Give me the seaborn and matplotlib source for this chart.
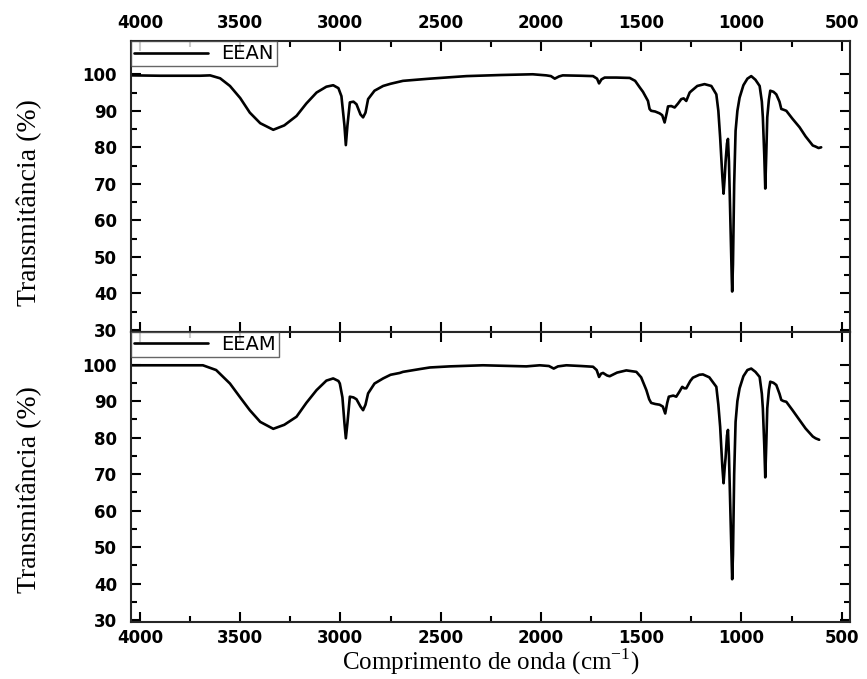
import pandas as pd
import seaborn as sns
import matplotlib.pyplot as plt
from matplotlib.ticker import MultipleLocator, FixedLocator

# Espectros FTIR (numero de onda em cm-1, transmitancia em %)
wn_eean = [4040, 3900, 3800, 3700, 3650, 3600, 3551, 3500, 3452, 3400, 3335, 3280,
           3219, 3170, 3119, 3070, 3036, 3010, 2995, 2980, 2973, 2965, 2953, 2935,
           2920, 2900, 2887, 2875, 2862, 2830, 2787, 2750, 2688, 2600, 2554, 2450,
           2371, 2200, 2041, 1973, 1950, 1931, 1910, 1891, 1800, 1740, 1720, 1710,
           1698, 1682, 1624, 1557, 1530, 1507, 1491, 1466, 1458, 1450, 1430, 1408,
           1395, 1383, 1372, 1366, 1350, 1333, 1316, 1300, 1288, 1275, 1258, 1250,
           1220, 1184, 1150, 1125, 1115, 1106, 1095, 1089, 1083, 1079, 1072, 1067,
           1062, 1055, 1048, 1046, 1042, 1036, 1029, 1020, 1009, 990, 970, 951,
           930, 909, 898, 893, 886, 881, 876, 871, 863, 856, 840, 826,
           810, 801, 790, 776, 745, 710, 680, 644, 630, 615, 602]
t_eean = [99.7, 99.6, 99.6, 99.6, 99.7, 98.9, 96.8, 93.5, 89.5, 86.6, 84.8, 86.0,
          88.6, 92.0, 95.0, 96.6, 97.0, 96.2, 94.0, 86.0, 80.6, 86.0, 92.3, 92.5,
          91.8, 89.0, 88.2, 89.5, 93.2, 95.5, 96.8, 97.4, 98.2, 98.6, 98.8, 99.2,
          99.5, 99.8, 100.0, 99.7, 99.5, 98.8, 99.4, 99.7, 99.6, 99.5, 98.8, 97.5,
          98.6, 99.1, 99.1, 99.0, 98.2, 96.4, 95.2, 92.7, 90.5, 90.0, 89.8, 89.3,
          88.8, 86.8, 89.5, 91.2, 91.3, 90.9, 92.0, 93.2, 93.4, 92.7, 95.0, 95.4,
          96.8, 97.3, 96.8, 94.5, 90.0, 82.7, 72.0, 67.3, 72.0, 76.0, 81.0, 82.3,
          76.0, 60.0, 44.0, 40.5, 48.0, 70.0, 84.5, 90.0, 93.6, 97.0, 98.8, 99.5,
          98.5, 96.8, 92.5, 88.2, 78.0, 68.7, 78.0, 88.2, 93.0, 95.5, 95.2, 94.5,
          92.5, 90.5, 90.3, 90.0, 87.8, 85.5, 83.0, 80.5, 80.2, 79.8, 80.0]

wn_eeam = [4040, 3900, 3800, 3686, 3620, 3551, 3500, 3452, 3400, 3335, 3280, 3219,
           3170, 3119, 3070, 3036, 3010, 3003, 2990, 2980, 2973, 2965, 2953, 2935,
           2920, 2900, 2887, 2875, 2862, 2830, 2787, 2750, 2704, 2688, 2600, 2554,
           2455, 2289, 2073, 2006, 1960, 1936, 1915, 1873, 1800, 1740, 1722, 1710,
           1700, 1690, 1670, 1657, 1620, 1574, 1524, 1500, 1474, 1460, 1450, 1430,
           1408, 1392, 1380, 1370, 1362, 1340, 1325, 1310, 1295, 1285, 1275, 1255,
           1242, 1210, 1192, 1160, 1125, 1115, 1106, 1095, 1089, 1083, 1079, 1072,
           1067, 1062, 1055, 1048, 1046, 1042, 1036, 1029, 1020, 1009, 990, 970,
           951, 930, 909, 898, 893, 886, 881, 876, 871, 863, 856, 840,
           826, 810, 801, 790, 776, 745, 710, 680, 644, 630, 612]
t_eeam = [99.8, 99.8, 99.8, 99.8, 98.5, 94.8, 91.0, 87.5, 84.3, 82.4, 83.5, 85.7,
          89.5, 93.0, 95.6, 96.2, 95.5, 94.8, 91.0, 84.0, 79.8, 84.0, 91.2, 91.0,
          90.5, 88.5, 87.5, 89.0, 92.1, 94.8, 96.2, 97.2, 97.7, 98.0, 98.8, 99.2,
          99.5, 99.8, 99.5, 99.8, 99.6, 98.9, 99.5, 99.8, 99.6, 99.4, 98.5, 96.6,
          97.5, 97.7, 97.0, 96.8, 97.8, 98.4, 98.0, 96.5, 93.0, 90.5, 89.5, 89.2,
          89.0, 88.5, 86.6, 89.5, 91.2, 91.5, 91.2, 92.5, 93.9, 93.5, 93.5, 95.5,
          96.4, 97.2, 97.3, 96.5, 93.9, 89.0, 83.0, 72.0, 67.5, 72.0, 74.4, 80.5,
          82.1, 75.0, 60.0, 45.0, 41.2, 48.0, 70.0, 84.3, 90.0, 93.5, 96.8, 98.5,
          98.9, 98.0, 96.6, 92.0, 88.0, 78.0, 69.1, 78.0, 88.0, 93.0, 95.3, 95.0,
          94.4, 92.0, 90.3, 90.0, 89.8, 87.5, 84.8, 82.5, 80.3, 79.8, 79.4]

samples = ["EEAN", "EEAM"]
y_ticks = [30, 40, 50, 60, 70, 80, 90, 100]

sns.set_style("ticks")
plt.rcParams['font.family'] = ['DejaVu Sans']
plt.rcParams['font.weight'] = 'bold'
plt.rcParams['axes.linewidth'] = 1.5
plt.rcParams['text.color'] = 'black'
plt.rcParams['axes.labelcolor'] = 'black'

fig, axes = plt.subplots(2, 1, figsize=(8.67, 6.79), dpi=100, sharex=True)
fig.subplots_adjust(left=0.151, right=0.980, top=0.939, bottom=0.084, hspace=0)

for ax, wn, t, name in zip(axes, [wn_eean, wn_eeam], [t_eean, t_eeam], samples):
    df = pd.DataFrame({'wn': wn, 'T': t})
    sns.lineplot(data=df, x='wn', y='T', ax=ax, color='black', linewidth=1.9,
                 label=name, estimator=None, sort=False)
    ax.set_xlim(4045, 460)
    ax.set_ylim(29.5, 109)
    ax.set_yticks(y_ticks)
    ax.yaxis.set_minor_locator(FixedLocator([35, 45, 55, 65, 75, 85, 95]))
    ax.xaxis.set_major_locator(MultipleLocator(500))
    ax.xaxis.set_minor_locator(MultipleLocator(250))
    ax.tick_params(which='both', direction='in', top=True, right=True,
                   width=1.5, colors='black', labelsize=12)
    ax.tick_params(which='major', length=7)
    ax.tick_params(which='minor', length=4)
    ax.tick_params(axis='y', which='major', pad=10)
    ax.set_xlabel('')
    ax.set_ylabel('Transmitância (%)', family='Liberation Serif', fontsize=20,
                  fontweight='normal')
    leg = ax.legend(loc='upper left', borderaxespad=0, frameon=True, fancybox=False,
                    edgecolor='0.25', prop={'size': 14, 'weight': 'normal'},
                    handlelength=3.8, handletextpad=0.7, borderpad=0.15)
    leg.get_frame().set_linewidth(1.0)

axes[0].tick_params(axis='x', labeltop=True, labelbottom=False, pad=7)
axes[1].tick_params(axis='x', labelbottom=True, pad=5)
axes[0].yaxis.set_label_coords(-0.124, 0.444)
axes[1].yaxis.set_label_coords(-0.124, 0.455)

axes[1].set_xlabel('Comprimento de onda (cm$^{\\mathregular{-1}}$)',
                   family='Liberation Serif', fontsize=18, fontweight='normal',
                   labelpad=0)

plt.savefig('out.png', dpi=100)
